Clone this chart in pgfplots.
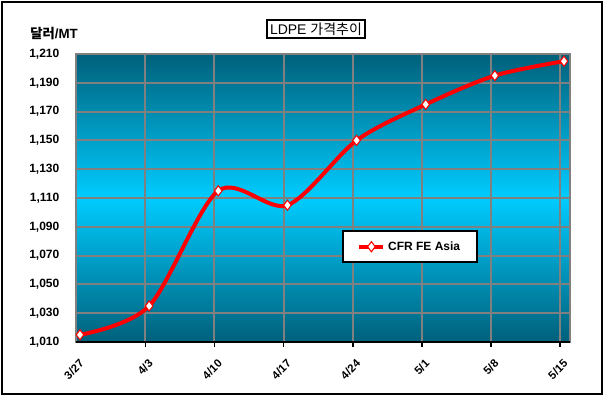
\documentclass[border=0pt]{standalone}
\usepackage{pgfplots}
\pgfplotsset{compat=1.18}
\usepackage{fontspec}
\setmainfont{Liberation Sans}
\newfontfamily\cjk{Noto Sans CJK KR}
\definecolor{tealdark}{RGB}{0,96,122}
\definecolor{cyanmid}{RGB}{0,204,255}
\definecolor{gridgray}{RGB}{128,128,128}
\begin{document}
\begin{tikzpicture}
\path[use as bounding box] (0,0) rectangle (453pt,297pt);
\draw[black,line width=1.5pt] (1.5pt,1.5pt) rectangle (451.5pt,295.5pt);
\begin{axis}[
  at={(57pt,40.5pt)}, anchor=south west,
  scale only axis, width=370.5pt, height=216pt,
  xmin=-0.058, xmax=7.087, ymin=1010, ymax=1210,
  axis background/.style={top color=tealdark, bottom color=tealdark, middle color=cyanmid},
  axis line style={draw=gridgray, line width=1.5pt},
  xtick={0,1,2,3,4,5,6,7},
  xticklabels={3/27,4/3,4/10,4/17,4/24,5/1,5/8,5/15},
  major tick length=0pt,
  xticklabel style={xshift=-1pt, yshift=-7.5pt, rotate=45, anchor=north east, font=\bfseries\fontsize{8.5}{9}\selectfont},
  ytick={1010,1030,...,1210},
  ymajorgrids,
  grid style={gridgray, line width=1.5pt},
  yticklabel style={font=\bfseries\fontsize{9}{10}\selectfont, xshift=-9pt},
  /pgf/number format/.cd, 1000 sep={,}, assume math mode=true,
  /pgfplots/.cd,
  legend style={at={(0.538,0.274)}, anchor=south west, draw=black, line width=1.5pt, fill=white,
    inner xsep=11pt, inner ysep=5.5pt, font=\bfseries\fontsize{9}{10}\selectfont},
  legend image code/.code={\draw[#1, line width=2.5pt] (0pt,0pt) -- (18pt,0pt); \draw[mark repeat=2,mark phase=2,#1] plot coordinates {(0pt,0pt) (9pt,0pt) (18pt,0pt)};},
  clip=false,
]
\pgfplotsinvokeforeach{0.945,1.945,2.945,3.945,4.945,5.945,6.945}{
  \draw[gridgray, line width=1.5pt] (axis cs:#1,1010) -- (axis cs:#1,1210);
  \draw[black, line width=1.2pt] (axis cs:#1,1010) -- ++(0pt,-4pt);
}
\addplot[red, line width=3pt, smooth, tension=0.5, mark=diamond*, mark size=3.8pt,
  mark options={fill=white, draw=red, line width=0.8pt}]
  coordinates {(0,1015) (1,1035) (2,1115) (3,1105) (4,1150) (5,1175) (6,1195) (7,1205)};
\addlegendentry{CFR FE Asia}
\draw[black, line width=2pt] (rel axis cs:0,0) -- (rel axis cs:1,0);
\end{axis}
\node[draw=black, line width=1.5pt, fill=white, inner xsep=2pt, inner ysep=2pt, font=\fontsize{10.5}{12}\selectfont] at (237pt,275pt) {LDPE {\cjk 가격추이}};
\node[anchor=west, inner sep=0pt, font=\bfseries\fontsize{10}{12}\selectfont] at (22.5pt,272pt) {{\cjk 달러}/MT};
\end{tikzpicture}
\end{document}
